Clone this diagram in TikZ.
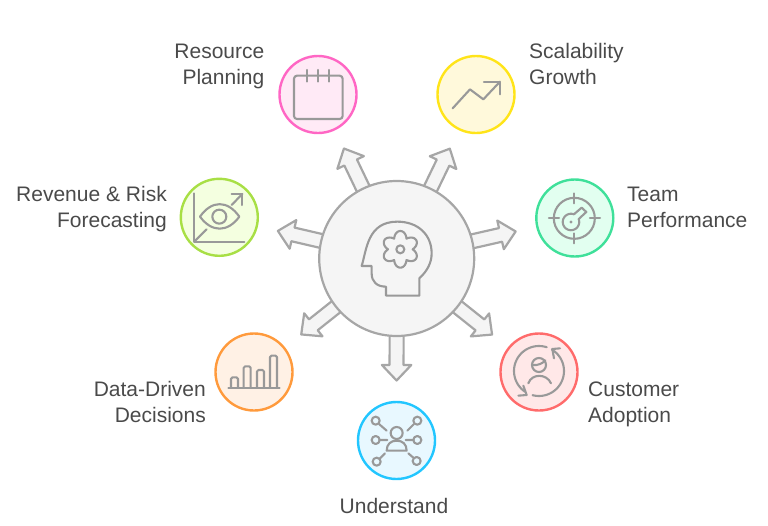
\documentclass[tikz,border=0pt]{standalone}
\usepackage{fontspec}
\setmainfont{Liberation Sans}
\usetikzlibrary{calc,backgrounds}
\definecolor{arrowgray}{HTML}{A6A6A6}
\definecolor{hubfill}{HTML}{F5F5F5}
\definecolor{icongray}{HTML}{999999}
\definecolor{labelgray}{HTML}{4A4A4A}
\definecolor{resS}{HTML}{FF66C4}\definecolor{resF}{HTML}{FFEAF6}
\definecolor{scaS}{HTML}{FFE419}\definecolor{scaF}{HTML}{FFF9DB}
\definecolor{revS}{HTML}{A8DF45}\definecolor{revF}{HTML}{F4FFE0}
\definecolor{teaS}{HTML}{3FE09A}\definecolor{teaF}{HTML}{E2FFF0}
\definecolor{datS}{HTML}{FF9A3C}\definecolor{datF}{HTML}{FFF1E5}
\definecolor{cusS}{HTML}{FF6B6B}\definecolor{cusF}{HTML}{FFE8E8}
\definecolor{undS}{HTML}{22C6FF}\definecolor{undF}{HTML}{E8F8FF}
\tikzset{
  hubnode/.style={circle,draw=arrowgray,fill=hubfill,line width=2.2pt,minimum size=155pt,inner sep=0pt},
  satnode/.style={circle,line width=2.4pt,minimum size=77pt,inner sep=0pt},
  blockarrow/.style={draw=arrowgray,fill=hubfill,line width=2.2pt,line join=round},
  icon/.style={draw=icongray,line width=2.1pt,line join=round,line cap=round},
  lbl/.style={text=labelgray,font=\fontsize{21}{26}\selectfont,inner sep=0pt},
  lblr/.style={lbl,align=right,anchor=base east},
  lbll/.style={lbl,align=left,anchor=base west},
}
\newcommand{\blockarrowto}[1]{%
  \coordinate (ab) at ($(hub)!70pt!(#1)$);
  \coordinate (an) at ($(hub)!106.5pt!(#1)$);
  \coordinate (at) at ($(hub)!122pt!(#1)$);
  \draw[blockarrow] ($(ab)!7pt!90:(at)$) -- ($(an)!7pt!90:(at)$) -- ($(an)!14.7pt!90:(at)$) -- (at)
    -- ($(an)!14.7pt!-90:(at)$) -- ($(an)!7pt!-90:(at)$) -- ($(ab)!7pt!-90:(at)$) -- cycle;
}
\begin{document}
\begin{tikzpicture}[x=1pt,y=-1pt]
\useasboundingbox (0,0) rectangle (768,525);
% hub and satellites
\node[hubnode] (hub) at (396.7,258.5) {};
\node[satnode,draw=resS,fill=resF] (res) at (318,94.5) {};
\node[satnode,draw=scaS,fill=scaF] (sca) at (476,94.5) {};
\node[satnode,draw=revS,fill=revF] (rev) at (219.3,217.3) {};
\node[satnode,draw=teaS,fill=teaF] (tea) at (574.8,218) {};
\node[satnode,draw=datS,fill=datF] (dat) at (254,372) {};
\node[satnode,draw=cusS,fill=cusF] (cus) at (539,372) {};
\node[satnode,draw=undS,fill=undF] (und) at (396.5,440.5) {};
% block arrows behind the hub
\begin{scope}[on background layer]
\foreach \s in {res,sca,rev,tea,dat,cus,und}{\blockarrowto{\s}}
\end{scope}
% labels
\node[lblr] (tres) at (264.5,84) {Resource\\Planning};
\node[lbll] (tsca) at (529,84) {Scalability\\Growth};
\node[lblr] (trev) at (167,227) {Revenue \& Risk\\Forecasting};
\node[lbll] (ttea) at (627,227) {Team\\Performance};
\node[lblr] (tdat) at (206,422) {Data-Driven\\Decisions};
\node[lbll] (tcus) at (588,422) {Customer\\Adoption};
\node[lbl,anchor=base] (tund) at (394,513) {Understand};
% hub icon: head with gear
\begin{scope}[shift={(260,130)},x=0.3333pt,y=-0.3333pt]
\draw[icon] (305,408) .. controls (320,360) and (322,275) .. (412,275)
  .. controls (475,275) and (515,315) .. (515,370)
  .. controls (515,400) and (500,425) .. (478,445)
  -- (478,497) -- (378,497) -- (378,470)
  .. controls (350,470) and (335,455) .. (335,430) -- (335,408) -- cycle;
\draw[icon] plot[domain=0:360,samples=121,smooth]
  ({421+(37+18*abs(cos(3*(\x-90))))*cos(\x)},{358+(37+18*abs(cos(3*(\x-90))))*sin(\x)}) -- cycle;
\draw[icon] (421,358) circle[radius=4pt];
\end{scope}
% calendar
\begin{scope}[shift={(170,40)},x=0.3333pt,y=-0.3333pt]
\draw[icon,rounded corners=3pt] (372,107) rectangle (518,237);
\draw[icon] (410,90) -- (410,125) (443,90) -- (443,125) (478,90) -- (478,125);
\end{scope}
% eye and chart
\begin{scope}[shift={(170,40)},x=0.3333pt,y=-0.3333pt]
\draw[icon] (73,460) -- (73,605) -- (223,605);
\draw[icon] (75,603) -- (110,568);
\draw[icon] (90,530) .. controls (125,480) and (173,480) .. (208,530)
  .. controls (173,578) and (125,578) .. (90,530) -- cycle;
\draw[icon] (148,530) circle[radius=7pt];
\draw[icon] (185,495) -- (217,462);
\draw[icon] (185,462) -- (217,462) -- (217,495);
\end{scope}
% growth and target
\begin{scope}[shift={(425,40)},x=0.3333pt,y=-0.3333pt]
\draw[icon] (83,205) -- (135,148) -- (175,178) -- (225,125);
\draw[icon] (177,125) -- (225,125) -- (225,163);
\draw[icon] (448,535) circle[radius=20.5pt];
\draw[icon] (448,460) -- (448,490) (448,580) -- (448,610) (372,535) -- (402,535) (495,535) -- (525,535);
\draw[icon] plot[domain=-21:291,samples=40] ({438+24.7*cos(\x)},{546+24.7*sin(\x)}) -- (470,503) -- (484,516) -- cycle;
\fill[icongray] (438,546) circle[radius=1.7pt];
\end{scope}
% bars
\begin{scope}[shift={(205,325)},x=0.3333pt,y=-0.3333pt]
\draw[icon] (70,188) -- (224,188);
\draw[icon,rounded corners=1.5pt] (78,188) -- (78,157) -- (99,157) -- (99,188);
\draw[icon,rounded corners=1.5pt] (116,188) -- (116,124) -- (137,124) -- (137,188);
\draw[icon,rounded corners=1.5pt] (156,188) -- (156,135) -- (177,135) -- (177,188);
\draw[icon,rounded corners=1.5pt] (195,188) -- (195,92) -- (216,92) -- (216,188);
\end{scope}
% customer cycle
\begin{scope}[shift={(490,325)},x=0.3333pt,y=-0.3333pt]
\draw[icon] plot[domain=-72:-236,samples=40] ({147+75*cos(\x)},{138+75*sin(\x)});
\draw[icon] (85,212) -- (110,210) -- (100,182);
\draw[icon] plot[domain=105:-59,samples=40] ({147+75*cos(\x)},{138+75*sin(\x)});
\draw[icon] (210,70) -- (187,72) -- (192,100);
\draw[icon] (147,120) circle[radius=7pt];
\draw[icon] (127,120) .. controls (145,122) and (158,115) .. (166,106);
\draw[icon] (115,175) .. controls (125,145) and (170,145) .. (183,175);
\end{scope}
% people network
\begin{scope}[shift={(355,400)},x=0.3333pt,y=-0.3333pt]
\draw[icon] (125,99) circle[radius=6pt];
\draw[icon] (95,152) .. controls (95,132) and (108,122) .. (125,122)
  .. controls (142,122) and (155,132) .. (155,152) -- cycle;
\foreach \cx/\cy in {62/62,187/62,62/120,187/120,65/185,185/183}
  \draw[icon] (\cx,\cy) circle[radius=4pt];
\draw[icon] (72,72) -- (95,92) (177,72) -- (157,92) (73,120) -- (97,120)
  (176,120) -- (152,120) (73,177) -- (90,160) (175,173) -- (160,160);
\end{scope}
\end{tikzpicture}
\end{document}
